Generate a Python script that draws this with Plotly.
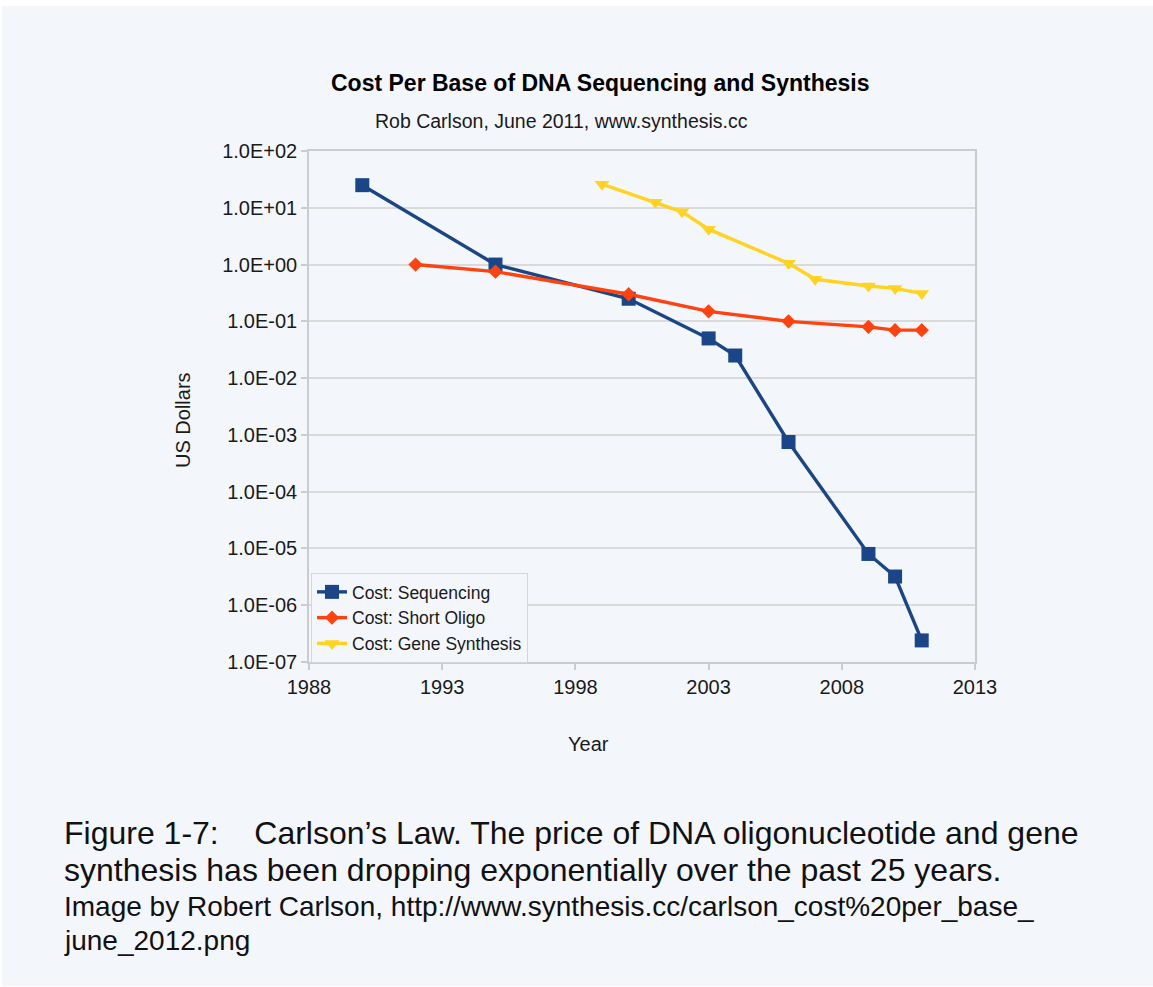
import plotly.graph_objects as go

# --- data -------------------------------------------------------------
seq_years = [1990, 1995, 2000, 2003, 2004, 2006, 2009, 2010, 2011]
seq_cost = [25, 1.0, 0.25, 0.05, 0.025, 7.5e-4, 8e-6, 3.2e-6, 2.4e-7]

oligo_years = [1992, 1995, 2000, 2003, 2006, 2009, 2010, 2011]
oligo_cost = [1.0, 0.75, 0.3, 0.15, 0.1, 0.08, 0.07, 0.07]

gene_years = [1999, 2001, 2002, 2003, 2006, 2007, 2009, 2010, 2011]
gene_cost = [26, 12.5, 8.5, 4.2, 1.05, 0.55, 0.42, 0.38, 0.31]

x_ticks = [1988, 1993, 1998, 2003, 2008, 2013]
y_ticks = [1e2, 1e1, 1e0, 1e-1, 1e-2, 1e-3, 1e-4, 1e-5, 1e-6, 1e-7]
y_tick_text = ["1.0E+02", "1.0E+01", "1.0E+00", "1.0E-01", "1.0E-02",
               "1.0E-03", "1.0E-04", "1.0E-05", "1.0E-06", "1.0E-07"]

title = "Cost Per Base of DNA Sequencing and Synthesis"
subtitle = "Rob Carlson, June 2011, www.synthesis.cc"
caption_lines = [
    "Figure 1-7:    Carlson\u2019s Law. The price of DNA oligonucleotide and gene",
    "synthesis has been dropping exponentially over the past 25 years.",
    "Image by Robert Carlson, http://www.synthesis.cc/carlson_cost%20per_base_",
    "june_2012.png",
]

# --- geometry ---------------------------------------------------------
W_PX, H_PX = 1153, 987
L, T, PW, PH = 309, 151, 666, 511
R = W_PX - L - PW
B = H_PX - T - PH


def px_x(px):
    return (px - L) / PW


def px_y(py):
    return (T + PH - py) / PH


FONT = "Liberation Sans, Arial, sans-serif"
PANEL = "#F3F6FB"
TEXT = "#1a1a1a"
GRID = "#dadada"

fig = go.Figure()

fig.add_trace(go.Scatter(
    x=seq_years, y=seq_cost, name="Cost: Sequencing", mode="lines+markers",
    line=dict(color="#1A4688", width=3.4),
    marker=dict(symbol="square", size=14, color="#1A4688"),
))
fig.add_trace(go.Scatter(
    x=oligo_years, y=oligo_cost, name="Cost: Short Oligo", mode="lines+markers",
    line=dict(color="#FF420E", width=3.4),
    marker=dict(symbol="diamond", size=11, color="#FF420E"),
))
fig.add_trace(go.Scatter(
    x=gene_years, y=gene_cost, name="Cost: Gene Synthesis", mode="lines+markers",
    line=dict(color="#FFD320", width=3.4),
    marker=dict(symbol="triangle-down", size=13, color="#FFD320"),
))

annotations = [
    dict(text="<b>" + title + "</b>", x=px_x(600.5), y=px_y(83),
         font=dict(size=23, color="#000000")),
    dict(text=subtitle, x=px_x(561.5), y=px_y(121),
         font=dict(size=19.5, color=TEXT)),
    dict(text="Year", x=px_x(588), y=px_y(744),
         font=dict(size=20, color=TEXT)),
    dict(text="US Dollars", x=px_x(183), y=px_y(420), textangle=-90,
         font=dict(size=20, color=TEXT)),
]
caption_y = [833, 870, 906, 940]
caption_size = [32, 32, 28, 28]
for line, cy, cs in zip(caption_lines, caption_y, caption_size):
    annotations.append(dict(text=line, x=px_x(62), y=px_y(cy), xanchor="left",
                            font=dict(size=cs, color="#111111")))

for a in annotations:
    a.setdefault("xanchor", "center")
    a.update(xref="paper", yref="paper", yanchor="middle", showarrow=False,
             font=dict(family=FONT, **a["font"]))

fig.update_layout(
    width=W_PX, height=H_PX,
    margin=dict(l=L, r=R, t=T, b=B),
    paper_bgcolor="white",
    plot_bgcolor="rgba(0,0,0,0)",
    font=dict(family=FONT, color=TEXT),
    showlegend=True,
    legend=dict(
        x=px_x(311), y=px_y(573), xanchor="left", yanchor="top",
        bgcolor=PANEL, bordercolor="#d6d6d6", borderwidth=1,
        font=dict(family=FONT, size=17.5, color=TEXT),
        itemwidth=30, tracegroupgap=0,
    ),
    annotations=annotations,
    shapes=[dict(type="rect", xref="paper", yref="paper",
                 x0=px_x(2), x1=px_x(1153), y0=px_y(986), y1=px_y(6),
                 fillcolor=PANEL, line=dict(width=0), layer="below")],
    xaxis=dict(
        range=[1988, 2013], tickvals=x_ticks, ticktext=[str(v) for v in x_ticks],
        showgrid=False, zeroline=False,
        showline=True, linecolor="#cccccc", linewidth=1.5, mirror=True,
        ticks="outside", ticklen=6, tickcolor="#cccccc", tickwidth=1.5,
        tickfont=dict(family=FONT, size=20, color=TEXT),
    ),
    yaxis=dict(
        type="log", range=[-7, 2], tickvals=y_ticks, ticktext=y_tick_text,
        showgrid=True, gridcolor=GRID, gridwidth=1.5,
        showline=True, linecolor="#cccccc", linewidth=1.5, mirror=True,
        ticks="outside", ticklen=6, tickcolor="#cccccc", tickwidth=1.5,
        tickfont=dict(family=FONT, size=20, color=TEXT),
    ),
)

fig.write_html("out.html")
